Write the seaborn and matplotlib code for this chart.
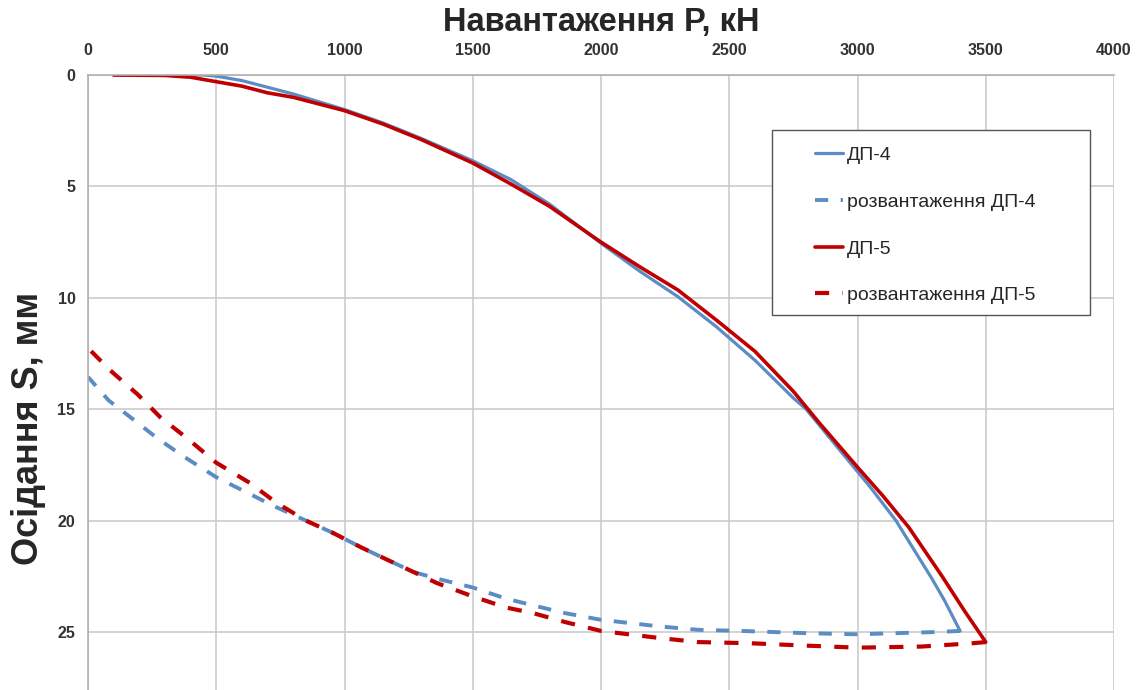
import numpy as np
import pandas as pd
import seaborn as sns
import matplotlib.pyplot as plt
from matplotlib.patches import Rectangle

# навантаження ДП-4
p4_load = [100, 300, 450, 500, 600, 700, 800, 1000, 1150, 1300, 1500, 1650, 1800, 2000,
           2150, 2300, 2450, 2600, 2750, 2800, 2950, 3050, 3150, 3290, 3340, 3400]
s4_load = [0.0, 0.0, 0.0, 0.05, 0.25, 0.55, 0.85, 1.55, 2.15, 2.85, 3.85, 4.7, 5.8, 7.55,
           8.8, 9.95, 11.3, 12.8, 14.5, 15.0, 17.1, 18.5, 20.0, 22.6, 23.6, 24.95]

# розвантаження ДП-4
p4_unload = [3400, 3300, 3000, 2800, 2550, 2380, 2230, 2000, 1860, 1735, 1630, 1500, 1360,
             1268, 1175, 1065, 955, 850, 735, 630, 500, 370, 270, 170, 80, 0]
s4_unload = [24.95, 25.0, 25.1, 25.05, 24.95, 24.9, 24.75, 24.45, 24.15, 23.8, 23.5, 23.0, 22.6,
             22.3, 21.8, 21.2, 20.55, 20.0, 19.4, 18.8, 18.05, 17.1, 16.3, 15.4, 14.6, 13.55]

# навантаження ДП-5
p5_load = [100, 300, 400, 500, 600, 700, 800, 1000, 1150, 1300, 1500, 1650, 1800, 2000,
           2150, 2300, 2450, 2600, 2750, 2850, 3000, 3100, 3200, 3330, 3420, 3500]
s5_load = [0.0, 0.02, 0.1, 0.3, 0.5, 0.8, 1.0, 1.6, 2.2, 2.9, 3.95, 4.9, 5.9, 7.5,
           8.6, 9.65, 11.0, 12.4, 14.2, 15.6, 17.6, 18.9, 20.3, 22.5, 24.1, 25.45]

# розвантаження ДП-5
p5_unload = [3500, 3450, 3250, 3000, 2780, 2580, 2380, 2230, 2000, 1860, 1735, 1630, 1500, 1360,
             1268, 1175, 1065, 955, 850, 735, 630, 500, 386, 281, 195, 86, 0]
s5_unload = [25.45, 25.5, 25.65, 25.7, 25.6, 25.5, 25.45, 25.27, 24.95, 24.55, 24.15, 23.9, 23.4, 22.8,
             22.3, 21.8, 21.2, 20.55, 20.0, 19.2, 18.3, 17.4, 16.3, 15.35, 14.35, 13.25, 12.25]

blue = "#5B8CC4"
red = "#C00000"

sns.set_style("white")
plt.rcParams['font.family'] = ['Liberation Sans', 'DejaVu Sans']

fig = plt.figure(figsize=(11.43, 6.9), dpi=100)
ax = fig.add_axes([88 / 1143, 0, 1026 / 1143, 615 / 690])

sns.lineplot(x=p4_load, y=s4_load, ax=ax, sort=False, estimator=None,
             color=blue, lw=2.3, label="ДП-4")
sns.lineplot(x=p4_unload, y=s4_unload, ax=ax, sort=False, estimator=None,
             color=blue, lw=2.8, dashes=(3.4, 3.2), label="розвантаження ДП-4")
sns.lineplot(x=p5_load, y=s5_load, ax=ax, sort=False, estimator=None,
             color=red, lw=2.6, label="ДП-5")
sns.lineplot(x=p5_unload, y=s5_unload, ax=ax, sort=False, estimator=None,
             color=red, lw=3.0, dashes=(3.4, 3.2), label="розвантаження ДП-5")

ax.set_xlim(0, 4000)
ax.set_ylim(27.6, 0)
ax.set_xticks(np.arange(0, 4001, 500))
ax.set_yticks(np.arange(0, 26, 5))
ax.xaxis.tick_top()
ax.xaxis.set_label_position('top')
ax.grid(True, color="#c8c8c8", lw=1.1)
ax.set_axisbelow(True)

for side in ['bottom', 'right']:
    ax.spines[side].set_visible(False)
for side in ['top', 'left']:
    ax.spines[side].set_color("#b0b0b0")
    ax.spines[side].set_linewidth(1.2)

ax.tick_params(axis='x', length=0, pad=12, labelsize=11.5, labelcolor="#333333")
ax.tick_params(axis='y', length=4, color="#b0b0b0", pad=5, labelsize=11.5, labelcolor="#333333")
for lab in ax.get_xticklabels() + ax.get_yticklabels():
    lab.set_fontweight('bold')

ax.set_xlabel("Навантаження P, кН", fontsize=23.5, fontweight='bold')
ax.xaxis.set_label_coords(0.5, 1.071)
ax.set_ylabel("Осідання S, мм", fontsize=26, fontweight='bold')
ax.yaxis.set_label_coords(-0.041, 0.425)

# рамка легенди
ax.add_patch(Rectangle((0.6667, 0.6098), 0.31, 0.3008, transform=ax.transAxes,
                       facecolor="white", edgecolor="#555555", lw=1.0, zorder=4))
leg = ax.legend(loc='upper left', bbox_to_anchor=(0.7086, 0.884),
                fontsize=14, frameon=False, handlelength=1.45, handletextpad=0.2,
                labelspacing=1.5, borderpad=0, borderaxespad=0)
leg.set_zorder(5)

fig.savefig("out.png", dpi=100)
